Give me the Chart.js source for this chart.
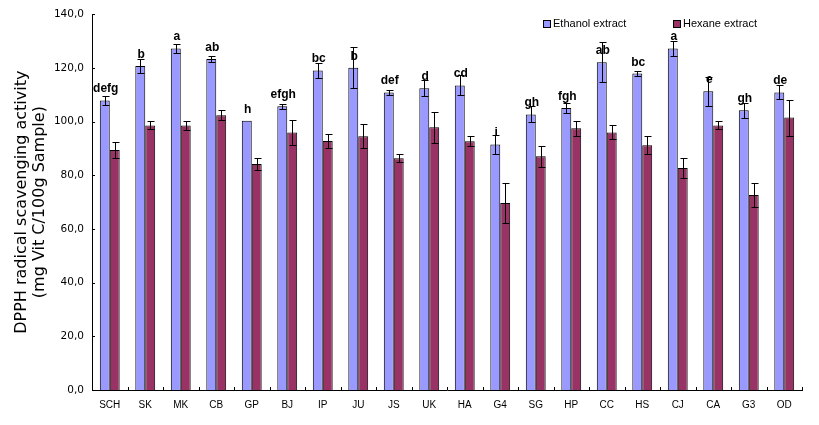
<!DOCTYPE html>
<html>
<head>
<meta charset="UTF-8">
<title>DPPH radical scavenging activity</title>
<script src="https://cdn.jsdelivr.net/npm/chart.js@4.4.1/dist/chart.umd.min.js"></script>
<style>
  html, body { margin: 0; padding: 0; background: #fff; }
  #wrap { width: 819px; height: 425px; }
</style>
</head>
<body>
<div id="wrap"><canvas id="dpph" width="819" height="425"></canvas></div>
<script>
  const samples = ['SCH', 'SK', 'MK', 'CB', 'GP', 'BJ', 'IP', 'JU', 'JS', 'UK',
                   'HA', 'G4', 'SG', 'HP', 'CC', 'HS', 'CJ', 'CA', 'G3', 'OD'];
  const ethanol = [107.9, 120.7, 127.3, 123.3, 100.3, 105.7, 119.1, 120.1, 110.9, 112.4,
                   113.5, 91.5, 102.7, 105.1, 122.1, 117.9, 127.3, 111.3, 104.2, 110.9];
  const ethanolErr = [1.7, 2.5, 1.8, 1.2, 0, 0.9, 2.7, 7.6, 0.8, 3.0,
                      3.7, 3.7, 3.0, 2.0, 7.5, 0.8, 2.7, 5.4, 2.7, 2.6];
  const hexane = [89.4, 98.6, 98.6, 102.4, 84.2, 96.0, 92.8, 94.6, 86.4, 97.9,
                  92.7, 69.7, 87.1, 97.5, 96.0, 91.2, 82.7, 98.6, 72.7, 101.5];
  const hexaneErr = [3.0, 1.5, 1.8, 1.8, 2.2, 4.6, 2.5, 4.4, 1.4, 5.7,
                     1.9, 7.4, 4.0, 2.7, 2.6, 3.4, 3.7, 1.5, 4.4, 6.7];
  const letters = ['defg', 'b', 'a', 'ab', 'h', 'efgh', 'bc', 'b', 'def', 'd',
                   'cd', 'i', 'gh', 'fgh', 'ab', 'bc', 'a', 'e', 'gh', 'de'];
  const yTicks = [0, 20, 40, 60, 80, 100, 120, 140];
  const seriesNames = ['Ethanol extract', 'Hexane extract'];
  const seriesColors = ['#9999FF', '#993366'];

  // error bars, significance letters, inside tick marks and legend
  const extras = {
    id: 'extras',
    afterDatasetsDraw(chart) {
      const ctx = chart.ctx;
      const x = chart.scales.x, y = chart.scales.y;
      const errs = [ethanolErr, hexaneErr];
      ctx.save();
      ctx.strokeStyle = '#000';
      ctx.lineWidth = 1;
      [ethanol, hexane].forEach((vals, d) => {
        chart.getDatasetMeta(d).data.forEach((bar, i) => {
          const e = errs[d][i];
          if (!e) return;
          const bx = Math.round(bar.x) + 0.5;
          const top = Math.round(y.getPixelForValue(vals[i] + e)) + 0.5;
          const bot = Math.round(y.getPixelForValue(vals[i] - e)) + 0.5;
          ctx.beginPath();
          ctx.moveTo(bx, top); ctx.lineTo(bx, bot);
          ctx.moveTo(bx - 3, top); ctx.lineTo(bx + 4, top);
          ctx.moveTo(bx - 3, bot); ctx.lineTo(bx + 4, bot);
          ctx.stroke();
        });
      });

      ctx.fillStyle = '#000';
      ctx.font = 'bold 12px "Liberation Sans", Arial, sans-serif';
      ctx.textAlign = 'center';
      ctx.textBaseline = 'alphabetic';
      chart.getDatasetMeta(0).data.forEach((bar, i) => {
        ctx.fillText(letters[i], bar.x + 1, y.getPixelForValue(ethanol[i]) - 8);
      });

      // inside ticks
      ctx.beginPath();
      y.ticks.forEach((t, i) => {
        const py = Math.round(y.getPixelForTick(i)) + 0.5;
        ctx.moveTo(y.right, py); ctx.lineTo(y.right + 3, py);
      });
      for (let i = 0; i <= samples.length; i++) {
        const px = Math.round(x.left + i * (x.right - x.left) / samples.length) + 0.5;
        ctx.moveTo(px, x.top); ctx.lineTo(px, x.top - 3);
      }
      ctx.stroke();

      // legend
      ctx.font = '11px "Liberation Sans", Arial, sans-serif';
      ctx.textAlign = 'left';
      ctx.textBaseline = 'middle';
      const lx = [543, 673];
      seriesNames.forEach((name, k) => {
        ctx.fillStyle = seriesColors[k];
        ctx.fillRect(lx[k], 20, 7, 7);
        ctx.strokeRect(lx[k] + 0.5, 20.5, 7, 7);
        ctx.fillStyle = '#000';
        ctx.fillText(name, lx[k] + 10, 24);
      });
      ctx.restore();
    }
  };

  new Chart(document.getElementById('dpph'), {
    type: 'bar',
    data: {
      labels: samples,
      datasets: [
        { label: seriesNames[0], data: ethanol, backgroundColor: seriesColors[0],
          borderColor: '#000', borderWidth: 1 },
        { label: seriesNames[1], data: hexane, backgroundColor: seriesColors[1],
          borderColor: '#000', borderWidth: 1 }
      ]
    },
    options: {
      responsive: false,
      animation: false,
      devicePixelRatio: 1,
      categoryPercentage: 0.56,
      barPercentage: 1,
      layout: { padding: { top: 13, right: 17, bottom: 0, left: 0 } },
      plugins: { legend: { display: false }, tooltip: { enabled: false } },
      scales: {
        x: {
          grid: { display: false, drawTicks: false },
          border: { display: true, color: '#000', width: 1 },
          ticks: { color: '#000', padding: 9, maxRotation: 0, autoSkip: false,
                   font: { family: '"Liberation Sans", Arial, sans-serif', size: 10 } },
          afterFit(s) { s.height = 35; }
        },
        y: {
          min: 0, max: 140,
          afterBuildTicks(s) { s.ticks = yTicks.map(v => ({ value: v })); },
          grid: { display: false, drawTicks: false },
          border: { display: true, color: '#000', width: 1 },
          ticks: { color: '#000', padding: 8,
                   font: { family: '"DejaVu Sans", sans-serif', size: 10.5 },
                   callback: v => v.toFixed(1).replace('.', ',') },
          title: {
            display: true,
            text: ['DPPH radical scavenging activity', '(mg Vit C/100g Sample)'],
            color: '#000',
            font: { family: '"DejaVu Sans", sans-serif', size: 16, lineHeight: 1.13 },
            padding: { top: 13, bottom: 0 }
          },
          afterFit(s) { s.width = 92; }
        }
      }
    },
    plugins: [extras]
  });
</script>
</body>
</html>
